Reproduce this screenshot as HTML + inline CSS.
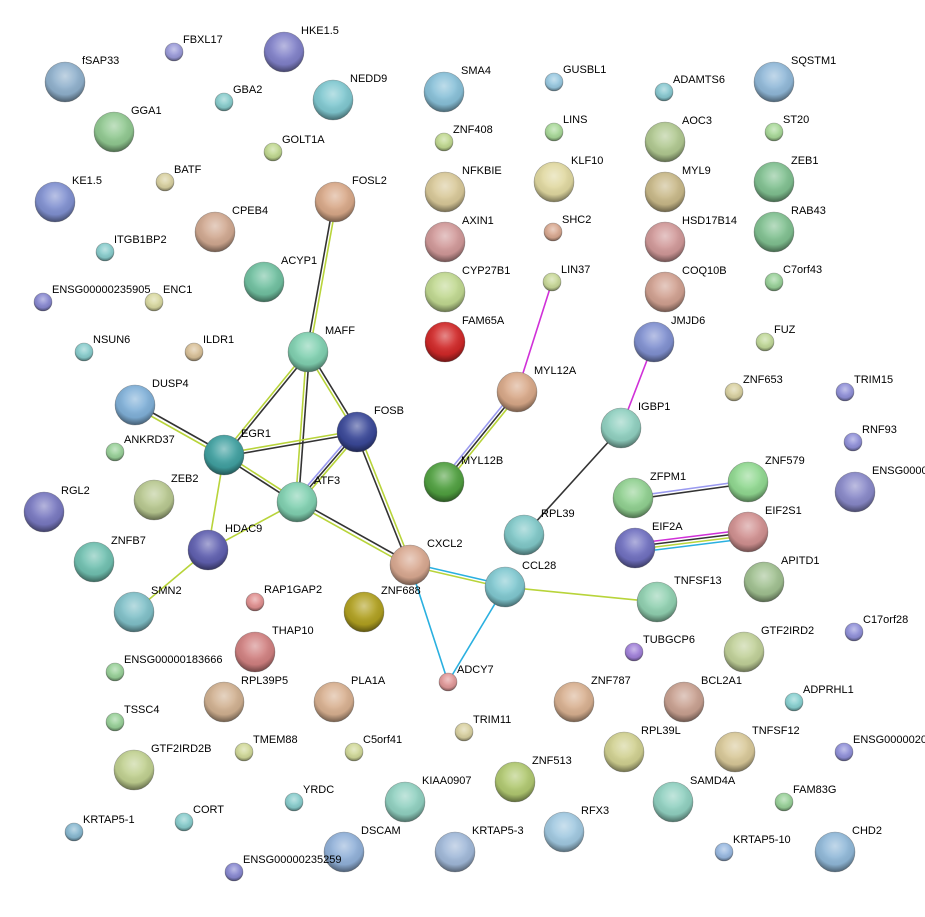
<!DOCTYPE html>
<html><head><meta charset="utf-8"><style>
html,body{margin:0;padding:0;background:#fff;}
svg{display:block;}
text{font-family:"Liberation Sans",sans-serif;font-size:11px;fill:#000;}
</style></head><body>
<svg width="925" height="917" viewBox="0 0 925 917" xmlns="http://www.w3.org/2000/svg">
<defs>
<radialGradient id="sh" cx="50%" cy="35%" r="62%">
<stop offset="0" stop-color="#fff" stop-opacity="0.45"/>
<stop offset="0.45" stop-color="#fff" stop-opacity="0.1"/>
<stop offset="0.75" stop-color="#000" stop-opacity="0.05"/>
<stop offset="1" stop-color="#000" stop-opacity="0.4"/>
</radialGradient>
<linearGradient id="hl" x1="0" y1="0" x2="0" y2="1">
<stop offset="0" stop-color="#fff" stop-opacity="0.9"/>
<stop offset="1" stop-color="#fff" stop-opacity="0"/>
</linearGradient>
</defs>
<g stroke-width="1.6" fill="none">
<line x1="333.5" y1="202" x2="306.5" y2="352" stroke="#333"/>
<line x1="336.5" y1="202" x2="309.5" y2="352" stroke="#b8d43a"/>
<line x1="309" y1="353" x2="225" y2="456" stroke="#333"/>
<line x1="307" y1="351" x2="223" y2="454" stroke="#b8d43a"/>
<line x1="309.5" y1="352" x2="298.5" y2="502" stroke="#333"/>
<line x1="306.5" y1="352" x2="295.5" y2="502" stroke="#b8d43a"/>
<line x1="309.3" y1="351.2" x2="358.3" y2="431.2" stroke="#333"/>
<line x1="306.7" y1="352.8" x2="355.7" y2="432.8" stroke="#b8d43a"/>
<line x1="224" y1="456.5" x2="357" y2="433.5" stroke="#333"/>
<line x1="224" y1="453.5" x2="357" y2="430.5" stroke="#b8d43a"/>
<line x1="223.2" y1="456.3" x2="296.2" y2="503.3" stroke="#333"/>
<line x1="224.8" y1="453.7" x2="297.8" y2="500.7" stroke="#b8d43a"/>
<line x1="295" y1="500.3" x2="355" y2="430.3" stroke="#9a9af0"/>
<line x1="297" y1="502" x2="357" y2="432" stroke="#333"/>
<line x1="299" y1="503.7" x2="359" y2="433.7" stroke="#b8d43a"/>
<line x1="136" y1="403.5" x2="225" y2="453.5" stroke="#333"/>
<line x1="134" y1="406.5" x2="223" y2="456.5" stroke="#b8d43a"/>
<line x1="224" y1="455" x2="208" y2="550" stroke="#b8d43a"/>
<line x1="208" y1="550" x2="297" y2="502" stroke="#b8d43a"/>
<line x1="208" y1="550" x2="134" y2="612" stroke="#b8d43a"/>
<line x1="298" y1="500.5" x2="411" y2="563.5" stroke="#333"/>
<line x1="296" y1="503.5" x2="409" y2="566.5" stroke="#b8d43a"/>
<line x1="355.5" y1="432.5" x2="408.5" y2="565.5" stroke="#333"/>
<line x1="358.5" y1="431.5" x2="411.5" y2="564.5" stroke="#b8d43a"/>
<line x1="410" y1="566" x2="505" y2="588" stroke="#b8d43a"/>
<line x1="410" y1="563" x2="505" y2="585" stroke="#2ab0e0"/>
<line x1="410" y1="565" x2="448" y2="682" stroke="#2ab0e0"/>
<line x1="505" y1="587" x2="448" y2="682" stroke="#2ab0e0"/>
<line x1="505" y1="587" x2="657" y2="602" stroke="#b8d43a"/>
<line x1="552" y1="282" x2="517" y2="392" stroke="#d030d8"/>
<line x1="515" y1="390" x2="442" y2="480" stroke="#9a9af0"/>
<line x1="517" y1="392" x2="444" y2="482" stroke="#333"/>
<line x1="519" y1="394" x2="446" y2="484" stroke="#b8d43a"/>
<line x1="654" y1="342" x2="621" y2="428" stroke="#d030d8"/>
<line x1="621" y1="428" x2="524" y2="535" stroke="#333"/>
<line x1="633" y1="496.5" x2="748" y2="480.5" stroke="#9a9af0"/>
<line x1="633" y1="499.5" x2="748" y2="483.5" stroke="#333"/>
<line x1="635" y1="543.5" x2="748" y2="529.5" stroke="#d030d8"/>
<line x1="635" y1="546.5" x2="748" y2="532.5" stroke="#333"/>
<line x1="635" y1="549.5" x2="748" y2="535.5" stroke="#b8d43a"/>
<line x1="635" y1="552.5" x2="748" y2="538.5" stroke="#2ab0e0"/>
</g>
<g stroke="#555" stroke-opacity="0.5" stroke-width="0.6">
<circle cx="65" cy="82" r="20" fill="#8fb0cc"/>
<circle cx="174" cy="52" r="9" fill="#9a9ad8"/>
<circle cx="284" cy="52" r="20" fill="#8080c8"/>
<circle cx="224" cy="102" r="9" fill="#88cccc"/>
<circle cx="333" cy="100" r="20" fill="#80c8d0"/>
<circle cx="114" cy="132" r="20" fill="#90c890"/>
<circle cx="273" cy="152" r="9" fill="#c0d890"/>
<circle cx="165" cy="182" r="9" fill="#d8d0a0"/>
<circle cx="55" cy="202" r="20" fill="#8090d0"/>
<circle cx="335" cy="202" r="20" fill="#d8a888"/>
<circle cx="215" cy="232" r="20" fill="#d0a890"/>
<circle cx="105" cy="252" r="9" fill="#88cccc"/>
<circle cx="264" cy="282" r="20" fill="#70c0a0"/>
<circle cx="43" cy="302" r="9" fill="#8888d0"/>
<circle cx="154" cy="302" r="9" fill="#d8d8a0"/>
<circle cx="84" cy="352" r="9" fill="#88cccc"/>
<circle cx="194" cy="352" r="9" fill="#d8c098"/>
<circle cx="308" cy="352" r="20" fill="#80d0b0"/>
<circle cx="135" cy="405" r="20" fill="#80b0d8"/>
<circle cx="357" cy="432" r="20" fill="#3a4898"/>
<circle cx="115" cy="452" r="9" fill="#98d098"/>
<circle cx="224" cy="455" r="20" fill="#40a0a0"/>
<circle cx="297" cy="502" r="20" fill="#80d0b0"/>
<circle cx="154" cy="500" r="20" fill="#b8c890"/>
<circle cx="44" cy="512" r="20" fill="#7878c0"/>
<circle cx="208" cy="550" r="20" fill="#6060b0"/>
<circle cx="94" cy="562" r="20" fill="#70c0b0"/>
<circle cx="410" cy="565" r="20" fill="#d8a890"/>
<circle cx="134" cy="612" r="20" fill="#80c0c8"/>
<circle cx="255" cy="602" r="9" fill="#e09090"/>
<circle cx="364" cy="612" r="20" fill="#b0a020"/>
<circle cx="255" cy="652" r="20" fill="#d08080"/>
<circle cx="115" cy="672" r="9" fill="#98d098"/>
<circle cx="448" cy="682" r="9" fill="#e09898"/>
<circle cx="224" cy="702" r="20" fill="#d0b090"/>
<circle cx="334" cy="702" r="20" fill="#d8b090"/>
<circle cx="115" cy="722" r="9" fill="#98d098"/>
<circle cx="244" cy="752" r="9" fill="#d0d898"/>
<circle cx="354" cy="752" r="9" fill="#d0d898"/>
<circle cx="464" cy="732" r="9" fill="#d8d0a0"/>
<circle cx="134" cy="770" r="20" fill="#c0d090"/>
<circle cx="294" cy="802" r="9" fill="#88cccc"/>
<circle cx="405" cy="802" r="20" fill="#90d0c0"/>
<circle cx="184" cy="822" r="9" fill="#88cccc"/>
<circle cx="74" cy="832" r="9" fill="#88b8d0"/>
<circle cx="344" cy="852" r="20" fill="#90b0d8"/>
<circle cx="455" cy="852" r="20" fill="#a0b8d8"/>
<circle cx="234" cy="872" r="9" fill="#8888d0"/>
<circle cx="444" cy="92" r="20" fill="#88c0d8"/>
<circle cx="554" cy="82" r="9" fill="#98c8e0"/>
<circle cx="444" cy="142" r="9" fill="#c0d890"/>
<circle cx="554" cy="132" r="9" fill="#a8d898"/>
<circle cx="445" cy="192" r="20" fill="#d8c898"/>
<circle cx="554" cy="182" r="20" fill="#e0d8a0"/>
<circle cx="445" cy="242" r="20" fill="#d09898"/>
<circle cx="553" cy="232" r="9" fill="#d8a890"/>
<circle cx="445" cy="292" r="20" fill="#c0d890"/>
<circle cx="552" cy="282" r="9" fill="#c8d898"/>
<circle cx="445" cy="342" r="20" fill="#d02828"/>
<circle cx="517" cy="392" r="20" fill="#d8a888"/>
<circle cx="444" cy="482" r="20" fill="#50a040"/>
<circle cx="664" cy="92" r="9" fill="#88c8d0"/>
<circle cx="774" cy="82" r="20" fill="#90b8d8"/>
<circle cx="665" cy="142" r="20" fill="#b0c890"/>
<circle cx="774" cy="132" r="9" fill="#a8d898"/>
<circle cx="665" cy="192" r="20" fill="#c8b888"/>
<circle cx="774" cy="182" r="20" fill="#80c090"/>
<circle cx="665" cy="242" r="20" fill="#d09898"/>
<circle cx="774" cy="232" r="20" fill="#80c090"/>
<circle cx="665" cy="292" r="20" fill="#d0a090"/>
<circle cx="774" cy="282" r="9" fill="#98d098"/>
<circle cx="654" cy="342" r="20" fill="#8090d0"/>
<circle cx="765" cy="342" r="9" fill="#c0d898"/>
<circle cx="734" cy="392" r="9" fill="#d8d0a0"/>
<circle cx="845" cy="392" r="9" fill="#9090d8"/>
<circle cx="621" cy="428" r="20" fill="#90d0c0"/>
<circle cx="853" cy="442" r="9" fill="#9090d8"/>
<circle cx="748" cy="482" r="20" fill="#90d890"/>
<circle cx="633" cy="498" r="20" fill="#90d090"/>
<circle cx="855" cy="492" r="20" fill="#8888c8"/>
<circle cx="524" cy="535" r="20" fill="#80c8c8"/>
<circle cx="748" cy="532" r="20" fill="#d09090"/>
<circle cx="635" cy="548" r="20" fill="#7070c0"/>
<circle cx="505" cy="587" r="20" fill="#80c8d0"/>
<circle cx="764" cy="582" r="20" fill="#a0c090"/>
<circle cx="657" cy="602" r="20" fill="#90d0b0"/>
<circle cx="854" cy="632" r="9" fill="#9090d8"/>
<circle cx="634" cy="652" r="9" fill="#a080d8"/>
<circle cx="744" cy="652" r="20" fill="#c0d098"/>
<circle cx="574" cy="702" r="20" fill="#d8b090"/>
<circle cx="684" cy="702" r="20" fill="#c8a090"/>
<circle cx="794" cy="702" r="9" fill="#88d0d0"/>
<circle cx="624" cy="752" r="20" fill="#d0d090"/>
<circle cx="735" cy="752" r="20" fill="#d8c898"/>
<circle cx="844" cy="752" r="9" fill="#9090d8"/>
<circle cx="515" cy="782" r="20" fill="#b0c870"/>
<circle cx="673" cy="802" r="20" fill="#90d0c0"/>
<circle cx="784" cy="802" r="9" fill="#98d098"/>
<circle cx="564" cy="832" r="20" fill="#a0c8e0"/>
<circle cx="724" cy="852" r="9" fill="#98b8e0"/>
<circle cx="835" cy="852" r="20" fill="#90b8d8"/>
</g>
<g fill="url(#sh)">
<circle cx="65" cy="82" r="20"/>
<circle cx="174" cy="52" r="9"/>
<circle cx="284" cy="52" r="20"/>
<circle cx="224" cy="102" r="9"/>
<circle cx="333" cy="100" r="20"/>
<circle cx="114" cy="132" r="20"/>
<circle cx="273" cy="152" r="9"/>
<circle cx="165" cy="182" r="9"/>
<circle cx="55" cy="202" r="20"/>
<circle cx="335" cy="202" r="20"/>
<circle cx="215" cy="232" r="20"/>
<circle cx="105" cy="252" r="9"/>
<circle cx="264" cy="282" r="20"/>
<circle cx="43" cy="302" r="9"/>
<circle cx="154" cy="302" r="9"/>
<circle cx="84" cy="352" r="9"/>
<circle cx="194" cy="352" r="9"/>
<circle cx="308" cy="352" r="20"/>
<circle cx="135" cy="405" r="20"/>
<circle cx="357" cy="432" r="20"/>
<circle cx="115" cy="452" r="9"/>
<circle cx="224" cy="455" r="20"/>
<circle cx="297" cy="502" r="20"/>
<circle cx="154" cy="500" r="20"/>
<circle cx="44" cy="512" r="20"/>
<circle cx="208" cy="550" r="20"/>
<circle cx="94" cy="562" r="20"/>
<circle cx="410" cy="565" r="20"/>
<circle cx="134" cy="612" r="20"/>
<circle cx="255" cy="602" r="9"/>
<circle cx="364" cy="612" r="20"/>
<circle cx="255" cy="652" r="20"/>
<circle cx="115" cy="672" r="9"/>
<circle cx="448" cy="682" r="9"/>
<circle cx="224" cy="702" r="20"/>
<circle cx="334" cy="702" r="20"/>
<circle cx="115" cy="722" r="9"/>
<circle cx="244" cy="752" r="9"/>
<circle cx="354" cy="752" r="9"/>
<circle cx="464" cy="732" r="9"/>
<circle cx="134" cy="770" r="20"/>
<circle cx="294" cy="802" r="9"/>
<circle cx="405" cy="802" r="20"/>
<circle cx="184" cy="822" r="9"/>
<circle cx="74" cy="832" r="9"/>
<circle cx="344" cy="852" r="20"/>
<circle cx="455" cy="852" r="20"/>
<circle cx="234" cy="872" r="9"/>
<circle cx="444" cy="92" r="20"/>
<circle cx="554" cy="82" r="9"/>
<circle cx="444" cy="142" r="9"/>
<circle cx="554" cy="132" r="9"/>
<circle cx="445" cy="192" r="20"/>
<circle cx="554" cy="182" r="20"/>
<circle cx="445" cy="242" r="20"/>
<circle cx="553" cy="232" r="9"/>
<circle cx="445" cy="292" r="20"/>
<circle cx="552" cy="282" r="9"/>
<circle cx="445" cy="342" r="20"/>
<circle cx="517" cy="392" r="20"/>
<circle cx="444" cy="482" r="20"/>
<circle cx="664" cy="92" r="9"/>
<circle cx="774" cy="82" r="20"/>
<circle cx="665" cy="142" r="20"/>
<circle cx="774" cy="132" r="9"/>
<circle cx="665" cy="192" r="20"/>
<circle cx="774" cy="182" r="20"/>
<circle cx="665" cy="242" r="20"/>
<circle cx="774" cy="232" r="20"/>
<circle cx="665" cy="292" r="20"/>
<circle cx="774" cy="282" r="9"/>
<circle cx="654" cy="342" r="20"/>
<circle cx="765" cy="342" r="9"/>
<circle cx="734" cy="392" r="9"/>
<circle cx="845" cy="392" r="9"/>
<circle cx="621" cy="428" r="20"/>
<circle cx="853" cy="442" r="9"/>
<circle cx="748" cy="482" r="20"/>
<circle cx="633" cy="498" r="20"/>
<circle cx="855" cy="492" r="20"/>
<circle cx="524" cy="535" r="20"/>
<circle cx="748" cy="532" r="20"/>
<circle cx="635" cy="548" r="20"/>
<circle cx="505" cy="587" r="20"/>
<circle cx="764" cy="582" r="20"/>
<circle cx="657" cy="602" r="20"/>
<circle cx="854" cy="632" r="9"/>
<circle cx="634" cy="652" r="9"/>
<circle cx="744" cy="652" r="20"/>
<circle cx="574" cy="702" r="20"/>
<circle cx="684" cy="702" r="20"/>
<circle cx="794" cy="702" r="9"/>
<circle cx="624" cy="752" r="20"/>
<circle cx="735" cy="752" r="20"/>
<circle cx="844" cy="752" r="9"/>
<circle cx="515" cy="782" r="20"/>
<circle cx="673" cy="802" r="20"/>
<circle cx="784" cy="802" r="9"/>
<circle cx="564" cy="832" r="20"/>
<circle cx="724" cy="852" r="9"/>
<circle cx="835" cy="852" r="20"/>
</g>
<g>
<text x="82" y="64">fSAP33</text>
<text x="183" y="43">FBXL17</text>
<text x="301" y="34">HKE1.5</text>
<text x="233" y="93">GBA2</text>
<text x="350" y="82">NEDD9</text>
<text x="131" y="114">GGA1</text>
<text x="282" y="143">GOLT1A</text>
<text x="174" y="173">BATF</text>
<text x="72" y="184">KE1.5</text>
<text x="352" y="184">FOSL2</text>
<text x="232" y="214">CPEB4</text>
<text x="114" y="243">ITGB1BP2</text>
<text x="281" y="264">ACYP1</text>
<text x="52" y="293">ENSG00000235905</text>
<text x="163" y="293">ENC1</text>
<text x="93" y="343">NSUN6</text>
<text x="203" y="343">ILDR1</text>
<text x="325" y="334">MAFF</text>
<text x="152" y="387">DUSP4</text>
<text x="374" y="414">FOSB</text>
<text x="124" y="443">ANKRD37</text>
<text x="241" y="437">EGR1</text>
<text x="314" y="484">ATF3</text>
<text x="171" y="482">ZEB2</text>
<text x="61" y="494">RGL2</text>
<text x="225" y="532">HDAC9</text>
<text x="111" y="544">ZNFB7</text>
<text x="427" y="547">CXCL2</text>
<text x="151" y="594">SMN2</text>
<text x="264" y="593">RAP1GAP2</text>
<text x="381" y="594">ZNF688</text>
<text x="272" y="634">THAP10</text>
<text x="124" y="663">ENSG00000183666</text>
<text x="457" y="673">ADCY7</text>
<text x="241" y="684">RPL39P5</text>
<text x="351" y="684">PLA1A</text>
<text x="124" y="713">TSSC4</text>
<text x="253" y="743">TMEM88</text>
<text x="363" y="743">C5orf41</text>
<text x="473" y="723">TRIM11</text>
<text x="151" y="752">GTF2IRD2B</text>
<text x="303" y="793">YRDC</text>
<text x="422" y="784">KIAA0907</text>
<text x="193" y="813">CORT</text>
<text x="83" y="823">KRTAP5-1</text>
<text x="361" y="834">DSCAM</text>
<text x="472" y="834">KRTAP5-3</text>
<text x="243" y="863">ENSG00000235259</text>
<text x="461" y="74">SMA4</text>
<text x="563" y="73">GUSBL1</text>
<text x="453" y="133">ZNF408</text>
<text x="563" y="123">LINS</text>
<text x="462" y="174">NFKBIE</text>
<text x="571" y="164">KLF10</text>
<text x="462" y="224">AXIN1</text>
<text x="562" y="223">SHC2</text>
<text x="462" y="274">CYP27B1</text>
<text x="561" y="273">LIN37</text>
<text x="462" y="324">FAM65A</text>
<text x="534" y="374">MYL12A</text>
<text x="461" y="464">MYL12B</text>
<text x="673" y="83">ADAMTS6</text>
<text x="791" y="64">SQSTM1</text>
<text x="682" y="124">AOC3</text>
<text x="783" y="123">ST20</text>
<text x="682" y="174">MYL9</text>
<text x="791" y="164">ZEB1</text>
<text x="682" y="224">HSD17B14</text>
<text x="791" y="214">RAB43</text>
<text x="682" y="274">COQ10B</text>
<text x="783" y="273">C7orf43</text>
<text x="671" y="324">JMJD6</text>
<text x="774" y="333">FUZ</text>
<text x="743" y="383">ZNF653</text>
<text x="854" y="383">TRIM15</text>
<text x="638" y="410">IGBP1</text>
<text x="862" y="433">RNF93</text>
<text x="765" y="464">ZNF579</text>
<text x="650" y="480">ZFPM1</text>
<text x="872" y="474">ENSG00000</text>
<text x="541" y="517">RPL39</text>
<text x="765" y="514">EIF2S1</text>
<text x="652" y="530">EIF2A</text>
<text x="522" y="569">CCL28</text>
<text x="781" y="564">APITD1</text>
<text x="674" y="584">TNFSF13</text>
<text x="863" y="623">C17orf28</text>
<text x="643" y="643">TUBGCP6</text>
<text x="761" y="634">GTF2IRD2</text>
<text x="591" y="684">ZNF787</text>
<text x="701" y="684">BCL2A1</text>
<text x="803" y="693">ADPRHL1</text>
<text x="641" y="734">RPL39L</text>
<text x="752" y="734">TNFSF12</text>
<text x="853" y="743">ENSG0000020</text>
<text x="532" y="764">ZNF513</text>
<text x="690" y="784">SAMD4A</text>
<text x="793" y="793">FAM83G</text>
<text x="581" y="814">RFX3</text>
<text x="733" y="843">KRTAP5-10</text>
<text x="852" y="834">CHD2</text>
</g>
</svg>
</body></html>
